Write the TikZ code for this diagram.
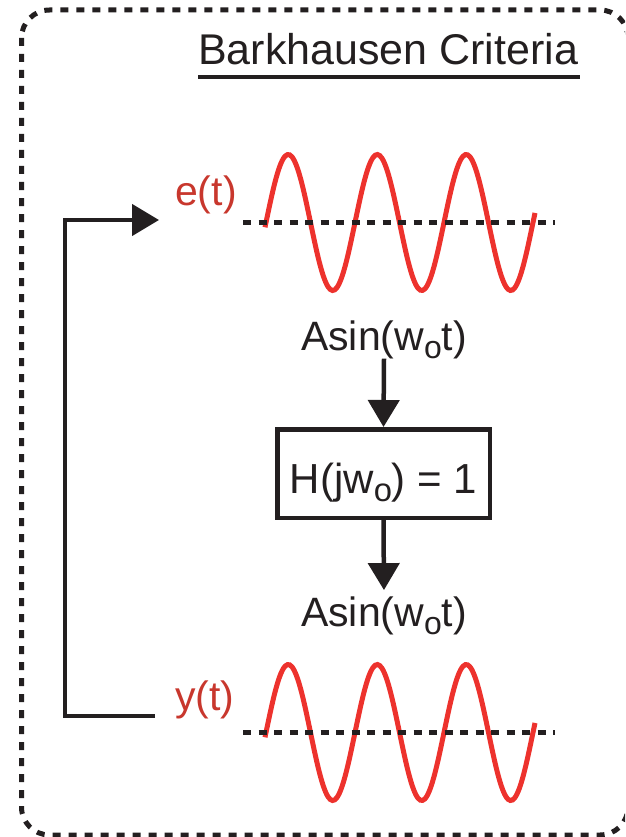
\documentclass[tikz,border=0pt]{standalone}
\usepackage{fontspec}
\setmainfont{Liberation Sans}
\usepackage{xcolor}
\usepackage{tikz}
\usetikzlibrary{arrows.meta,positioning,calc}

\definecolor{sigred}{RGB}{237,50,45}
\definecolor{lblred}{RGB}{200,55,45}
\definecolor{ink}{RGB}{35,31,32}
\newcommand{\subo}{\raisebox{-0.2em}{\scalebox{0.78}{o}}}

\begin{document}
\begin{tikzpicture}[
    x=1pt, y=-1pt,
    font=\fontsize{41}{48}\selectfont,
    txt/.style={inner sep=0pt, anchor=base, text=ink},
    sig/.style={inner sep=0pt, anchor=base west, text=lblred},
    box/.style={draw=ink, line width=4.5pt, inner xsep=0pt, inner ysep=0pt,
      minimum width=212.5pt, text height=63.75pt, text depth=24.75pt,
      anchor=base, text=ink, font=\fontsize{42}{50}\selectfont},
    arr/.style={-{Triangle[length=27pt,width=31pt]}, line width=4.5pt, draw=ink},
    border/.style={draw=ink, line width=5pt, dash pattern=on 8pt off 8pt,
      rounded corners=28pt},
    zeroline/.style={draw=ink, line width=4.5pt, dash pattern=on 8pt off 7.5pt},
    sinewave/.style={draw=sigred, line width=5pt},
  ]
    \useasboundingbox (0,0) rectangle (625,837);
    \clip (0,0) rectangle (625,837);

    % --- dashed frame and title ---
    \draw[border] (21.5,10) rectangle (628,835);
    \node[txt, anchor=base west, font=\fontsize{43}{50}\selectfont] (title)
      at (198,65) {Barkhausen Criteria};
    \draw[ink, line width=4pt] ([yshift=-12pt]title.base west)
      -- ([yshift=-12pt, xshift=2pt]title.base east);

    % --- signals e(t) and y(t) ---
    \foreach \yc in {222.5,732.5} {
      \draw[sinewave] plot[domain=265:535, samples=121, smooth]
        (\x, {\yc - 68*sin(4.04494*(\x-266))});
      \draw[zeroline] (243,\yc) -- (555,\yc);
    }
    \node[sig] (elbl) at (175,205) {e(t)};
    \node[sig] (ylbl) at (175,710) {y(t)};

    % --- forward path ---
    \node[txt] (asin1) at (384,350) {Asin(w\subo t)};
    \node[box] (hbox) at (383.5,493) {H(jw\subo) = 1};
    \node[txt] (asin2) at (384,626) {Asin(w\subo t)};
    \draw[arr] (asin1.south) -- (hbox.north);
    \draw[arr, shorten >=6pt] (hbox.south) -- (asin2.north);

    % --- feedback loop ---
    \coordinate (ein) at (159,220);
    \coordinate (yout) at (155,716);
    \draw[arr] (yout) -- ++(-90,0) |- (ein);
  \end{tikzpicture}
\end{document}
